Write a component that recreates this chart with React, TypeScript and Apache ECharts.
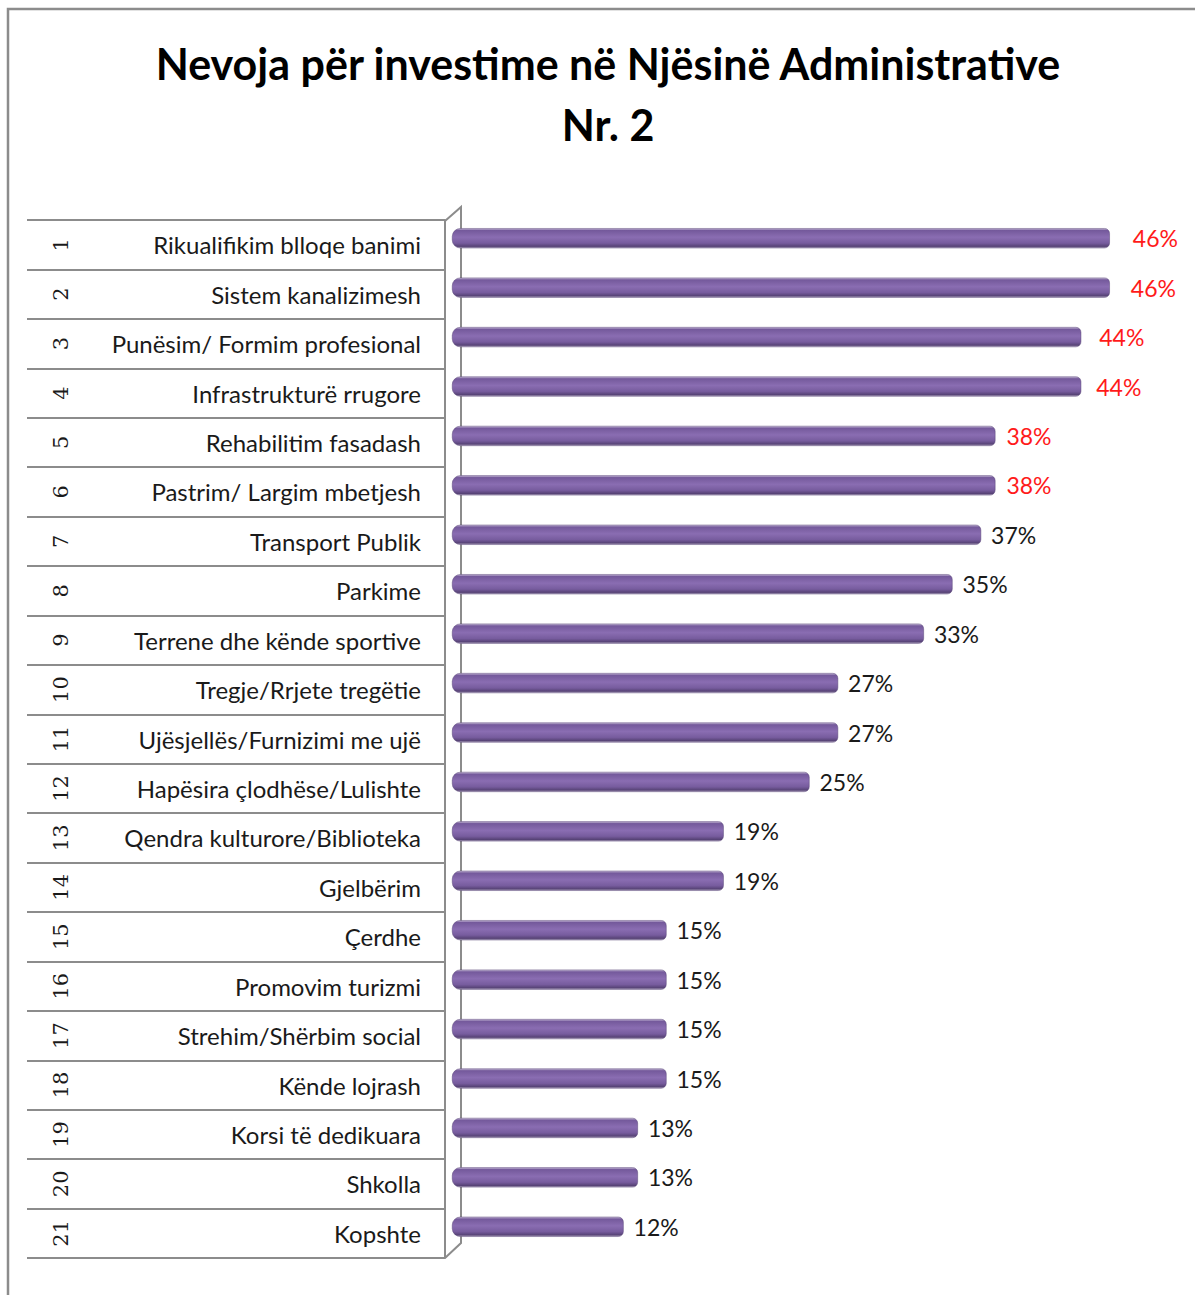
import React, { useEffect, useRef } from "react";
import * as echarts from "echarts";

const titleLines = ["Nevoja për investime në Njësinë Administrative", "Nr. 2"];

const categories = [
  "Rikualifikim blloqe banimi",
  "Sistem kanalizimesh",
  "Punësim/ Formim profesional",
  "Infrastrukturë rrugore",
  "Rehabilitim fasadash",
  "Pastrim/ Largim mbetjesh",
  "Transport Publik",
  "Parkime",
  "Terrene dhe kënde sportive",
  "Tregje/Rrjete tregëtie",
  "Ujësjellës/Furnizimi me ujë",
  "Hapësira çlodhëse/Lulishte",
  "Qendra kulturore/Biblioteka",
  "Gjelbërim",
  "Çerdhe",
  "Promovim turizmi",
  "Strehim/Shërbim social",
  "Kënde lojrash",
  "Korsi të dedikuara",
  "Shkolla",
  "Kopshte",
];

const rankNumbers = categories.map((_, i) => String(i + 1));

const values = [46, 46, 44, 44, 38, 38, 37, 35, 33, 27, 27, 25, 19, 19, 15, 15, 15, 15, 13, 13, 12];

const highlightCount = 6;

// style only: label gaps for top items
const labelGaps = [23, 21, 18, 15, 11, 11];

const GRAY = "#8c8c8c";

export default function App() {
  const ref = useRef<HTMLDivElement>(null);

  useEffect(() => {
    document.body.style.margin = "0";
    const chart = echarts.init(ref.current!, null, { renderer: "svg" });

    const barData = values.map((v, i) => ({
      value: v,
      label: {
        color: i < highlightCount ? "#ff1a1a" : "#1a1a1a",
        distance: i < highlightCount ? labelGaps[i] : 10,
      },
    }));

    chart.setOption({
      animation: false,
      backgroundColor: "#ffffff",
      title: {
        text: titleLines.join("\n"),
        left: 603,
        textAlign: "center",
        top: 28,
        textStyle: {
          fontFamily: "Lato",
          fontWeight: "bold",
          fontSize: 43,
          lineHeight: 61,
          color: "#000",
        },
      },
      graphic: [
        {
          type: "rect",
          z: 0,
          silent: true,
          shape: { x: 8, y: 9, width: 1300, height: 1400 },
          style: { fill: "none", stroke: GRAY, lineWidth: 2.5 },
        },
        {
          type: "polyline",
          z: 0,
          silent: true,
          shape: {
            points: [
              [445, 221],
              [461, 207],
              [461, 1243],
              [445, 1258],
            ],
          },
          style: { fill: "none", stroke: GRAY, lineWidth: 2 },
        },
      ],
      grid: [
        { left: 445, top: 220, height: 1038, right: 28 },
        { left: 452, top: 213.5, height: 1038, right: 28 },
      ],
      xAxis: [
        { type: "value", gridIndex: 0, min: 0, max: 50, show: false },
        { type: "value", gridIndex: 1, min: 0, max: 50, show: false },
      ],
      yAxis: [
        {
          type: "category",
          gridIndex: 0,
          inverse: true,
          data: categories,
          axisLine: { show: true, lineStyle: { color: GRAY, width: 2 } },
          axisTick: { show: true, length: 418, lineStyle: { color: GRAY, width: 2 } },
          axisLabel: {
            margin: 24,
            fontFamily: "Lato",
            fontSize: 24,
            color: "#1a1a1a",
          },
          splitLine: { show: false },
        },
        {
          type: "category",
          gridIndex: 0,
          inverse: true,
          position: "left",
          data: rankNumbers,
          axisLine: { show: false },
          axisTick: { show: false },
          axisLabel: {
            rotate: 90,
            margin: 374,
            fontFamily: "DejaVu Serif",
            fontSize: 21,
            color: "#1a1a1a",
          },
        },
        {
          type: "category",
          gridIndex: 1,
          inverse: true,
          data: categories,
          show: false,
        },
      ],
      series: [
        {
          type: "bar",
          xAxisIndex: 1,
          yAxisIndex: 2,
          data: barData,
          barWidth: 20,
          z: 3,
          itemStyle: {
            borderRadius: [8, 5, 5, 8],
            color: new echarts.graphic.LinearGradient(0, 0, 0, 1, [
              { offset: 0, color: "#cfc4de" },
              { offset: 0.1, color: "#74599b" },
              { offset: 0.45, color: "#8a6db2" },
              { offset: 0.75, color: "#775c9e" },
              { offset: 0.92, color: "#574376" },
              { offset: 1, color: "#b9b0c6" },
            ]),
            borderColor: "#574376",
            borderWidth: 0.5,
          },
          label: {
            show: true,
            position: "right",
            formatter: "{c}%",
            fontFamily: "Lato",
            fontSize: 23,
          },
        },
      ],
    });

    return () => chart.dispose();
  }, []);

  return <div ref={ref} style={{ width: 1195, height: 1295 }} />;
}
